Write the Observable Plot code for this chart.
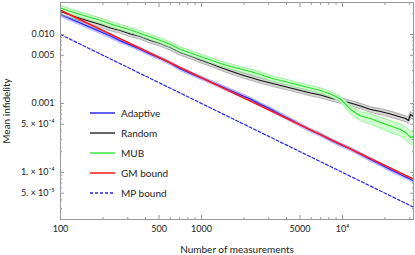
<!DOCTYPE html>
<html><head><meta charset="utf-8">
<script src="https://cdn.jsdelivr.net/npm/d3@7"></script>
<script src="https://cdn.jsdelivr.net/npm/@observablehq/plot@0.6"></script>
<style>
body{margin:0;background:#fff;}
#wrap{position:relative;width:415px;height:255px;font-family:Lato,sans-serif;}
#legend{position:absolute;left:90px;top:103px;font-size:10px;color:#222;}
.row{display:flex;align-items:center;height:20px;}
.row svg{width:26px;height:4px;margin-right:5px;}
</style></head><body><div id="wrap"><div id="legend"></div></div>
<script>
// Number of measurements (shared grid)
const measurements = [100,118,139,163,192,226,266,314,369,435,512,603,710,836,984,1158,1364,1606,1891,2226,2621,3086,3633,4278,5036,5929,6982,8219,9678,11390,13420,15800,18600,21900,25780,27980,29380,30360,31880];
const adaptive = [0.01949,0.01689,0.01463,0.01267,0.01098,0.00951,0.00810,0.00702,0.00610,0.00520,0.00450,0.003838,0.003162,0.002739,0.002373,0.002056,0.001781,0.001543,0.001337,0.001158,0.000970,0.000827,0.000693,0.000582,0.000488,0.000409,0.000354,0.000297,0.000253,0.000219,0.000184,0.000154,0.000131,0.000110,0.0000935,0.0000864,0.0000824,0.0000797,0.0000761];
const random = [0.02154,0.01917,0.01706,0.01543,0.01396,0.01242,0.01143,0.01017,0.009354,0.008185,0.007406,0.006480,0.005485,0.004880,0.004270,0.003800,0.003325,0.002958,0.002632,0.002382,0.002154,0.001980,0.001823,0.001678,0.001543,0.001419,0.001328,0.001202,0.001105,0.001017,0.000920,0.000819,0.000766,0.000704,0.000637,0.000606,0.000567,0.000693,0.000648];
const mub = [0.02421,0.02154,0.01949,0.01764,0.01596,0.01420,0.01284,0.01162,0.01034,0.009199,0.008185,0.007163,0.006062,0.005395,0.004799,0.004270,0.003800,0.003438,0.003162,0.002910,0.002632,0.002342,0.002154,0.001982,0.001823,0.001678,0.001543,0.001373,0.001162,0.000819,0.000659,0.000606,0.000531,0.000472,0.000420,0.000380,0.000344,0.000322,0.000333];
// relative standard errors
const adaptiveErr = [0.07,0.07,0.07,0.07,0.07,0.07,0.07,0.06,0.06,0.06,0.06,0.06,0.06,0.06,0.06,0.06,0.06,0.06,0.06,0.06,0.06,0.06,0.06,0.06,0.06,0.06,0.06,0.06,0.06,0.06,0.06,0.06,0.06,0.06,0.06,0.06,0.06,0.06,0.06];
const randomErr = [0.09,0.09,0.09,0.09,0.09,0.09,0.09,0.09,0.09,0.09,0.09,0.09,0.09,0.09,0.09,0.09,0.09,0.09,0.09,0.09,0.09,0.09,0.09,0.09,0.09,0.09,0.09,0.09,0.09,0.09,0.09,0.09,0.1,0.1,0.1,0.1,0.1,0.1,0.1];
const mubErr = [0.09,0.09,0.09,0.09,0.09,0.09,0.09,0.09,0.09,0.09,0.09,0.09,0.09,0.09,0.09,0.09,0.09,0.09,0.09,0.09,0.09,0.09,0.09,0.09,0.09,0.09,0.09,0.09,0.1,0.13,0.15,0.17,0.18,0.2,0.2,0.21,0.22,0.22,0.22];
const boundN = [100, 31880];
const gmBound = [0.0225, 0.00008];
const mpBound = [0.01, 0.0000314];
const xTicks = [100, 500, 1000, 5000, 10000];
const xTickLabels = ["100", "500", "1000", "5000", "10\u2074"];
const xMinor = [200,300,400,600,700,800,900,2000,3000,4000,6000,7000,8000,9000,20000,30000];
const yTicks = [0.01, 0.005, 0.001, 0.0005, 0.0001, 0.00005];
const yTickLabels = ["0.010", "0.005", "0.001", "5. \u00d7 10\u207b\u2074", "1. \u00d7 10\u207b\u2074", "5. \u00d7 10\u207b\u2075"];
const yMinor = [0.02,0.009,0.008,0.007,0.006,0.004,0.003,0.002,0.0009,0.0008,0.0007,0.0006,0.0004,0.0003,0.0002,0.00009,0.00008,0.00007,0.00006,0.00004,0.00003];
const legendNames = ["Adaptive", "Random", "MUB", "GM bound", "MP bound"];

const ser = (vals, errs) => measurements.map((n, i) => ({n, v: vals[i], lo: vals[i] * (1 - errs[i]), hi: vals[i] * (1 + errs[i])}));
const A = ser(adaptive, adaptiveErr), R = ser(random, randomErr), M = ser(mub, mubErr);
const B = boundN.map((n, i) => ({n, gm: gmBound[i], mp: mpBound[i]}));
const XL = xTicks.map((t, i) => ({t, s: xTickLabels[i]}));
const YL = yTicks.map((t, i) => ({t, s: yTickLabels[i]}));
const tc = "#999";
const band = (D, fill, edge) => [
  Plot.areaY(D, {x: "n", y1: "lo", y2: "hi", fill, clip: true}),
  Plot.lineY(D, {x: "n", y: "lo", stroke: edge, strokeWidth: 0.8, clip: true}),
  Plot.lineY(D, {x: "n", y: "hi", stroke: edge, strokeWidth: 0.8, clip: true})
];
const chart = Plot.plot({
  width: 415, height: 255,
  marginLeft: 60, marginRight: 2, marginTop: 2, marginBottom: 36,
  style: {fontFamily: "Lato, sans-serif", fontSize: "9px", background: "#fff", color: "#222"},
  x: {type: "log", domain: [100, 31880], label: null},
  y: {type: "log", domain: [2.08e-5, 0.0291], label: null},
  marks: [
    ...band(A, "#c4c4ff", "#a8a8ff"),
    Plot.lineY(A, {x: "n", y: "v", stroke: "#2b2bff", strokeWidth: 1.3, clip: true}),
    ...band(R, "#d6d6d6", "#9a9a9a"),
    Plot.lineY(R, {x: "n", y: "v", stroke: "#111", strokeWidth: 1.2, clip: true}),
    ...band(M, "#cfffcf", "#8cf08c"),
    Plot.lineY(M, {x: "n", y: "v", stroke: "#22e022", strokeWidth: 1.2, clip: true}),
    Plot.lineY(B, {x: "n", y: "gm", stroke: "#ff1a1a", strokeWidth: 1.5, clip: true}),
    Plot.lineY(B, {x: "n", y: "mp", stroke: "#2626ee", strokeWidth: 1.2, strokeDasharray: "3,2", clip: true}),
    Plot.frame({stroke: tc}),
    Plot.axisX(xTicks, {anchor: "bottom", tickSize: -4, stroke: tc, tickFormat: () => "", label: null}),
    Plot.axisX(xMinor, {anchor: "bottom", tickSize: -2, stroke: tc, tickFormat: () => "", label: null}),
    Plot.axisX(xTicks, {anchor: "top", tickSize: -4, stroke: tc, tickFormat: () => "", label: null}),
    Plot.axisX(xMinor, {anchor: "top", tickSize: -2, stroke: tc, tickFormat: () => "", label: null}),
    Plot.axisY(yTicks, {anchor: "left", tickSize: -4, stroke: tc, tickFormat: () => "", label: null}),
    Plot.axisY(yMinor, {anchor: "left", tickSize: -2, stroke: tc, tickFormat: () => "", label: null}),
    Plot.axisY(yTicks, {anchor: "right", tickSize: -4, stroke: tc, tickFormat: () => "", label: null}),
    Plot.axisY(yMinor, {anchor: "right", tickSize: -2, stroke: tc, tickFormat: () => "", label: null}),
    Plot.text(XL, {x: "t", text: "s", frameAnchor: "bottom", lineAnchor: "top", dy: 6, fill: "#222"}),
    Plot.text(YL, {y: "t", text: "s", frameAnchor: "left", textAnchor: "end", dx: -6, fill: "#222"}),
    Plot.axisX([], {anchor: "bottom", tickSize: 0, label: "Number of measurements", labelAnchor: "center", labelOffset: 33, labelArrow: "none", fontSize: 10}),
    Plot.axisY([], {anchor: "left", tickSize: 0, label: "Mean infidelity", labelAnchor: "center", labelOffset: 58, labelArrow: "none", fontSize: 10})
  ]
});
document.getElementById("wrap").prepend(chart);
// legend overlay
const styles = [
  {c: "#2b2bff", w: 1.5, d: null},
  {c: "#111", w: 1.3, d: null},
  {c: "#22e022", w: 1.3, d: null},
  {c: "#ff1a1a", w: 1.5, d: null},
  {c: "#2626ee", w: 1.3, d: "3,2"}
];
const lg = document.getElementById("legend");
legendNames.forEach((name, i) => {
  const s = styles[i];
  const row = document.createElement("div");
  row.className = "row";
  row.innerHTML = `<svg viewBox="0 0 26 4"><line x1="0" y1="2" x2="25" y2="2" stroke="${s.c}" stroke-width="${s.w}" ${s.d ? `stroke-dasharray="${s.d}"` : ""}/></svg><span>${name}</span>`;
  lg.appendChild(row);
});
</script></body></html>
